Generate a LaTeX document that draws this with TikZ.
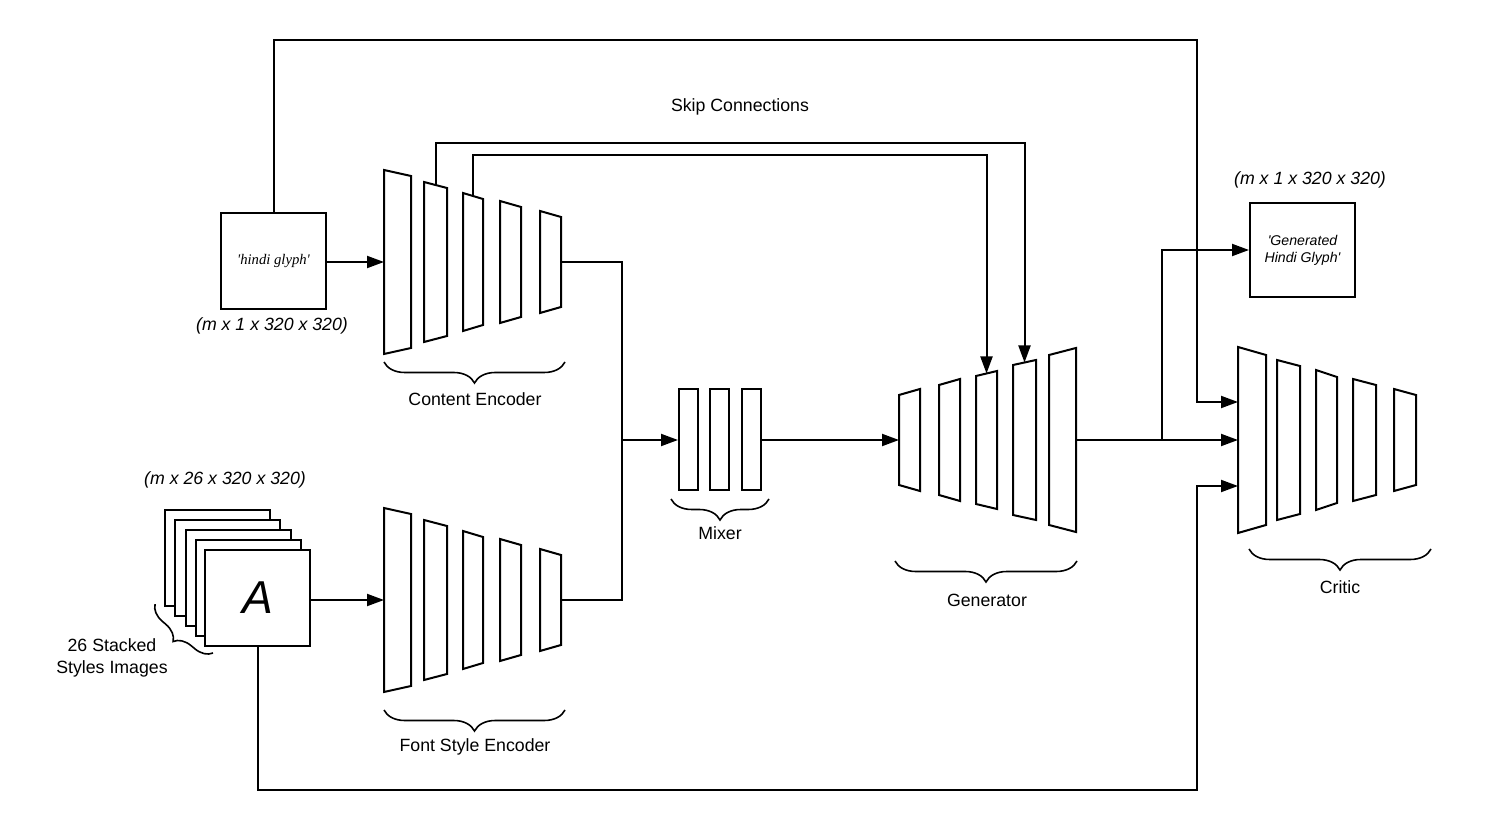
\documentclass[tikz,border=0pt]{standalone}
\usepackage{fontspec}
\setmainfont{Liberation Sans}
\newfontfamily\glyphserif{Liberation Serif}
\usetikzlibrary{arrows.meta,decorations.pathreplacing,calc}

% one convolutional layer drawn as a trapezoid:
% name, left x, right x, centre y, half height left, half height right
\newcommand\convlayer[6]{%
  \draw[layer] (#2,{#4-#5}) -- (#2,{#4+#5}) -- (#3,{#4+#6}) -- (#3,{#4-#6}) -- cycle;
  \coordinate (#1-w) at (#2,#4);
  \coordinate (#1-e) at (#3,#4);
  \coordinate (#1-n) at ({(#2+#3)/2},{#4-(#5+#6)/2});
}

\begin{document}
\begin{tikzpicture}[x=0.75pt,y=-0.75pt,
  wire/.style={line width=1.5pt},
  flow/.style={wire,-{Triangle[length=12.75pt,width=9pt]}},
  layer/.style={line width=1.5pt,line join=miter,fill=white},
  imgbox/.style={draw,line width=1.5pt,fill=white,inner sep=0pt,anchor=north west,
    minimum width=78.75pt,minimum height=72pt},
  mixbox/.style={draw,line width=1.5pt,inner sep=0pt,minimum width=14.25pt,minimum height=75.75pt},
  lbl/.style={font=\fontsize{13.3}{16.5}\selectfont,inner sep=0pt},
  dims/.style={font=\fontsize{13.3}{16}\selectfont\itshape,inner sep=0pt},
  curly/.style={line width=1.2pt,decorate,decoration={brace,amplitude=15.75pt}},
]
\useasboundingbox (0,0) rectangle (1500,830);

% ---------- inputs ----------
\node[imgbox,font=\glyphserif\itshape\fontsize{11}{13}\selectfont] (hindi) at (220,212)
  {\textquotesingle hindi glyph\textquotesingle};
\node[dims] (dimsContent) at (272,326) {(m x 1 x 320 x 320)};

\node[imgbox] (st1) at (164,509) {};
\node[imgbox] (st2) at (174,519) {};
\node[imgbox] (st3) at (185,529) {};
\node[imgbox] (st4) at (195,539) {};
\node[imgbox,font=\fontsize{34.6}{36}\selectfont\itshape] (front) at (204,549) {A};
\node[dims] (dimsStyle) at (225,480) {(m x 26 x 320 x 320)};
\draw[curly,decoration={brace,amplitude=12.75pt}] (213,653) -- (155,604);
\node[lbl,align=center] (stackLbl) at (112,658) {26 Stacked\\Styles Images};

% ---------- content encoder ----------
\convlayer{ce1}{384}{411}{262}{92}{86}
\convlayer{ce2}{424}{447}{262}{80}{74}
\convlayer{ce3}{463}{483}{262}{69}{63}
\convlayer{ce4}{500}{521}{262}{61}{55}
\convlayer{ce5}{540}{561}{262}{51}{45}
\draw[curly] (565,362) -- (384,362);
\node[lbl] (ceLbl) at (475,399) {Content Encoder};

% ---------- font style encoder ----------
\convlayer{se1}{384}{411}{600}{92}{86}
\convlayer{se2}{424}{447}{600}{80}{74}
\convlayer{se3}{463}{483}{600}{69}{63}
\convlayer{se4}{500}{521}{600}{61}{55}
\convlayer{se5}{540}{561}{600}{51}{45}
\draw[curly] (565,710) -- (384,710);
\node[lbl] (seLbl) at (475,747) {Font Style Encoder};

% ---------- mixer ----------
\node[mixbox] (mx1) at (688.5,440) {};
\node[mixbox] (mx2) at (719.5,440) {};
\node[mixbox] (mx3) at (751,440) {};
\draw[curly] (769,499) -- (671,499);
\node[lbl] (mxLbl) at (720,533) {Mixer};

% ---------- generator ----------
\convlayer{gen1}{899}{920}{440}{45}{51}
\convlayer{gen2}{939}{960}{440}{55}{61}
\convlayer{gen3}{976}{997}{440}{64}{69}
\convlayer{gen4}{1013}{1036}{440}{75}{80}
\convlayer{gen5}{1049}{1076}{440}{85}{92}
\draw[curly] (1077,561) -- (895,561);
\node[lbl] (genLbl) at (987,600) {Generator};

% ---------- critic ----------
\convlayer{cr1}{1238}{1266}{440}{93}{85}
\convlayer{cr2}{1277}{1300}{440}{80}{74}
\convlayer{cr3}{1316}{1337}{440}{70}{63}
\convlayer{cr4}{1353}{1376}{440}{61}{55}
\convlayer{cr5}{1394}{1416}{440}{51}{45}
\draw[curly] (1431,549) -- (1249,549);
\node[lbl] (crLbl) at (1340,587) {Critic};
\coordinate (crinTop) at (1238,402);
\coordinate (crinBot) at (1238,486);

% ---------- output glyph ----------
\node[imgbox,minimum height=70.5pt,align=center,
  font=\fontsize{10.6}{12.75}\selectfont\itshape] (genglyph) at (1249,202)
  {\textquotesingle Generated\\Hindi Glyph\textquotesingle};
\node[dims] (dimsOut) at (1310,180) {(m x 1 x 320 x 320)};

% ---------- connectors ----------
\draw[flow] (ce1-w -| hindi.east) -- (ce1-w);
\draw[flow] (se1-w -| front.east) -- (se1-w);

\coordinate (merge) at (622,440);
\draw[wire] (ce5-e) -| (merge);
\draw[wire] (se5-e) -| (merge);
\draw[flow] (merge) -- (mx1.west);
\draw[flow] (mx3.east) -- (gen1-w);

\coordinate (split) at (1162,440);
\draw[flow] (gen5-e) -- (cr1-w);
\draw[flow] (split) |- (genglyph.west);

% skip connections from encoder to generator
\coordinate (skipOuter) at (0,143);
\coordinate (skipInner) at (0,155);
\draw[flow] (ce2-n) -- (ce2-n |- skipOuter) -| (gen4-n);
\draw[flow] (ce3-n) -- (ce3-n |- skipInner) -| (gen3-n);
\node[lbl] (skipLbl) at (740,107) {Skip Connections};

% real inputs routed to the critic
\coordinate (loopTop) at (1197,40);
\coordinate (loopBot) at (1197,790);
\draw[flow] (hindi.north) |- (loopTop) |- (crinTop);
\draw[flow] (front.south) |- (loopBot) |- (crinBot);

\end{tikzpicture}
\end{document}
